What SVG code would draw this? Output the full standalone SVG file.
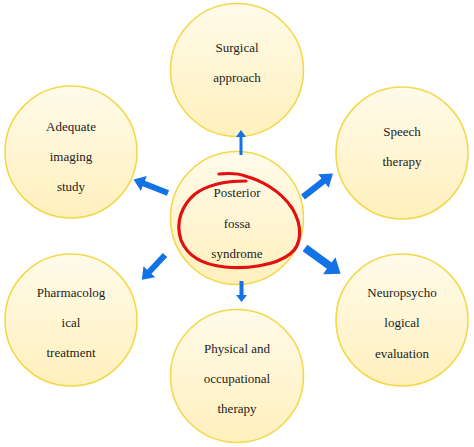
<svg xmlns="http://www.w3.org/2000/svg" width="474" height="447" viewBox="0 0 474 447">
<style>
.node circle{fill:url(#g);stroke:#f4d84c;stroke-width:1.6}
.node text{font-family:"Liberation Serif","Times New Roman",serif;font-size:13px;fill:#222;text-anchor:middle}
.conn path{fill:#1272e6}
</style>
<defs>
<linearGradient id="g" x1="0" y1="0" x2="0" y2="1">
<stop offset="0" stop-color="#fffbea"/>
<stop offset="1" stop-color="#fff0bd"/>
</linearGradient>
</defs>
<rect width="474" height="447" fill="#fff"/>
<g id="n-surgical" class="node"><circle cx="237" cy="70" r="66.5"/><text x="237" y="52">Surgical</text><text x="237" y="82">approach</text></g>
<g id="n-adequate" class="node"><circle cx="71" cy="152" r="66"/><text x="71" y="131">Adequate</text><text x="71" y="161">imaging</text><text x="71" y="191">study</text></g>
<g id="n-speech" class="node"><circle cx="402" cy="153" r="66"/><text x="402" y="136">Speech</text><text x="402" y="166">therapy</text></g>
<g id="n-pharma" class="node"><circle cx="71" cy="320" r="66"/><text x="71" y="297">Pharmacolog</text><text x="71" y="327">ical</text><text x="71" y="357">treatment</text></g>
<g id="n-neuro" class="node"><circle cx="402" cy="320" r="66"/><text x="402" y="297">Neuropsycho</text><text x="402" y="327">logical</text><text x="402" y="358">evaluation</text></g>
<g id="n-physical" class="node"><circle cx="237" cy="376" r="66.5"/><text x="237" y="353">Physical and</text><text x="237" y="383">occupational</text><text x="237" y="413">therapy</text></g>
<g id="n-center" class="node"><circle cx="237" cy="218" r="66.5"/><text x="237" y="197">Posterior</text><text x="237" y="228">fossa</text><text x="237" y="258">syndrome</text>
<path d="M219,174 C230,173 240,174 245,176 C260,180 280,190 292,208 C303,226 302,245 290,254 C275,266 245,269 225,267 C205,265 188,258 181,240 C175,222 182,205 195,194 C207,185 225,181 246,181" fill="none" stroke="#e21010" stroke-width="3.2" stroke-linecap="round"/></g>
<g id="connectors" class="conn">
<path d="M239.5,155 V137 H236 L241,130 L246,137 H242.5 V155 Z"/>
<path d="M239.5,281 V295 H236 L241.5,302 L247,295 H243.5 V281 Z"/>
<path transform="translate(168,193) rotate(201.5)" d="M0,-3 H26 V-8 L37,0 L26,8 V3 H0 Z"/>
<path transform="translate(303,197) rotate(-38)" d="M0,-3.2 H26 V-8.5 L38,0 L26,8.5 V3.2 H0 Z"/>
<path transform="translate(165,255) rotate(133)" d="M0,-3 H23 V-8 L34,0 L23,8 V3 H0 Z"/>
<path transform="translate(305,248) rotate(36)" d="M0,-4 H30 V-10.5 L44,0 L30,10.5 V4 H0 Z"/>
</g>
</svg>
